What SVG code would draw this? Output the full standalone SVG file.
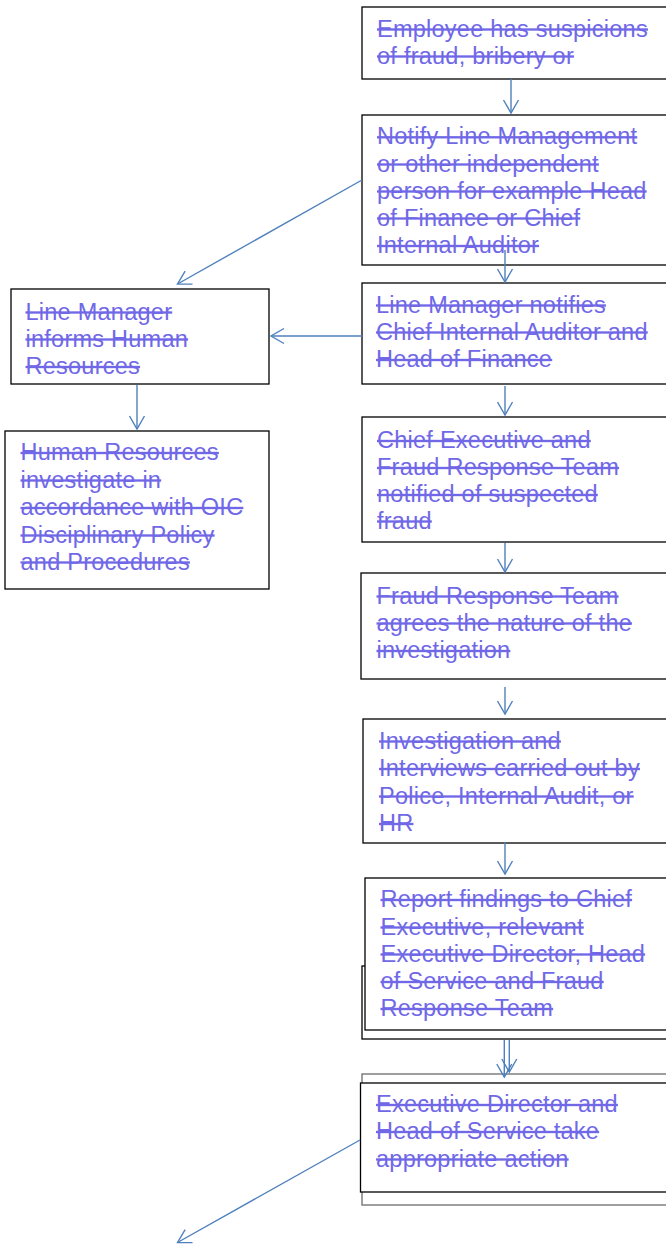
<svg xmlns="http://www.w3.org/2000/svg" width="666" height="1244" viewBox="0 0 666 1244">
<style>
.box{fill:#ffffff;stroke:#000000;stroke-width:1.3}
.boxg{fill:#ffffff;stroke:#7f7f7f;stroke-width:1.5}
.t{font-family:"Liberation Sans",Arial,sans-serif;font-size:23.5px;letter-spacing:0.25px;fill:#7068e6;text-decoration:line-through}
.c{stroke:#4f81bd;stroke-width:1.4;fill:none;marker-end:url(#arr)}
</style>
<defs>
<marker id="arr" markerUnits="userSpaceOnUse" viewBox="-15 -9 17 18" refX="0" refY="0" markerWidth="17" markerHeight="18" orient="auto">
<path d="M-13,-7.5 L0,0 L-13,7.5" fill="none" stroke="#4f81bd" stroke-width="1.4"/>
</marker>
</defs>
<rect width="666" height="1244" fill="#ffffff"/>
<g id="n1">
<rect class="box" x="362" y="7" width="310" height="72"/>
<text class="t" x="377" y="36.5">Employee has suspicions</text>
<text class="t" x="377" y="63.5">of fraud, bribery or</text>
</g>
<g id="n2">
<rect class="box" x="362" y="115" width="310" height="150"/>
<text class="t" x="377" y="144.3">Notify Line Management</text>
<text class="t" x="377" y="171.5">or other independent</text>
<text class="t" x="377" y="198.5">person for example Head</text>
<text class="t" x="377" y="225.5">of Finance or Chief</text>
<text class="t" x="377" y="253">Internal Auditor</text>
</g>
<g id="n3">
<rect class="box" x="362" y="283" width="310" height="101"/>
<text class="t" x="376" y="312.5">Line Manager notifies</text>
<text class="t" x="376" y="339.5">Chief Internal Auditor and</text>
<text class="t" x="376" y="367">Head of Finance</text>
</g>
<g id="n4">
<rect class="box" x="362" y="417" width="310" height="125"/>
<text class="t" x="377" y="448">Chief Executive and</text>
<text class="t" x="377" y="475">Fraud Response Team</text>
<text class="t" x="377" y="502">notified of suspected</text>
<text class="t" x="377" y="528.5">fraud</text>
</g>
<g id="n5">
<rect class="box" x="361" y="573" width="311" height="106"/>
<text class="t" x="376.5" y="603.5">Fraud Response Team</text>
<text class="t" x="376.5" y="630.5">agrees the nature of the</text>
<text class="t" x="376.5" y="658">investigation</text>
</g>
<g id="n6">
<rect class="box" x="363" y="719" width="309" height="124"/>
<text class="t" x="379" y="748.5">Investigation and</text>
<text class="t" x="379" y="776">Interviews carried out by</text>
<text class="t" x="379" y="803.5">Police, Internal Audit, or</text>
<text class="t" x="379" y="831">HR</text>
</g>
<g id="n7">
<rect class="box" x="362" y="966" width="310" height="73"/>
<rect class="box" x="365" y="878" width="307" height="152"/>
<text class="t" x="380.5" y="907">Report findings to Chief</text>
<text class="t" x="380.5" y="934.5">Executive, relevant</text>
<text class="t" x="380.5" y="961.5">Executive Director, Head</text>
<text class="t" x="380.5" y="989">of Service and Fraud</text>
<text class="t" x="380.5" y="1016">Response Team</text>
</g>
<g id="n8">
<rect class="boxg" x="362" y="1074" width="310" height="131"/>
<rect class="box" x="360.5" y="1083" width="311" height="109"/>
<text class="t" x="376" y="1112">Executive Director and</text>
<text class="t" x="376" y="1139">Head of Service take</text>
<text class="t" x="376" y="1166.5">appropriate action</text>
</g>
<g id="l1">
<rect class="box" x="11" y="289" width="258" height="95"/>
<text class="t" x="25.5" y="319.5">Line Manager</text>
<text class="t" x="25.5" y="346.5">informs Human</text>
<text class="t" x="25.5" y="374">Resources</text>
</g>
<g id="l2">
<rect class="box" x="5" y="431" width="264" height="158"/>
<text class="t" x="20.5" y="460">Human Resources</text>
<text class="t" x="20.5" y="487.5">investigate in</text>
<text class="t" x="20.5" y="515">accordance with OIC</text>
<text class="t" x="20.5" y="542.5">Disciplinary Policy</text>
<text class="t" x="20.5" y="569.5">and Procedures</text>
</g>
<g id="connectors">
<line class="c" x1="511" y1="79" x2="511" y2="113"/>
<line class="c" x1="505" y1="250" x2="505" y2="282"/>
<line class="c" x1="362" y1="180" x2="177.5" y2="284"/>
<line class="c" x1="362" y1="336" x2="271" y2="336"/>
<line class="c" x1="137" y1="385" x2="137" y2="429"/>
<line class="c" x1="505" y1="386" x2="505" y2="415"/>
<line class="c" x1="505" y1="543" x2="505" y2="572"/>
<line class="c" x1="505" y1="687" x2="505" y2="714"/>
<line class="c" x1="505" y1="842" x2="505" y2="874"/>
<line class="c" x1="504.3" y1="1040" x2="504.3" y2="1077"/>
<line class="c" x1="509.3" y1="1040" x2="509.3" y2="1072"/>
<line class="c" x1="360" y1="1140" x2="177.5" y2="1242.5"/>
</g>
</svg>
